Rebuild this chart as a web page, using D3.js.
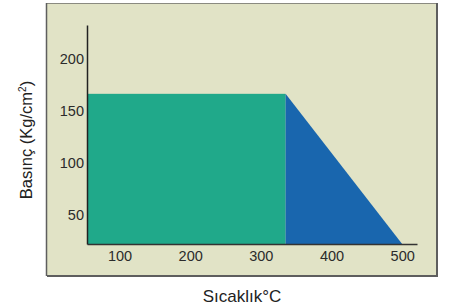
<!DOCTYPE html>
<html><head><meta charset="utf-8">
<script src="https://cdn.jsdelivr.net/npm/d3@7"></script>
<style>body{margin:0;background:#fff}svg{display:block}text{font-family:"Liberation Sans",Arial,sans-serif}</style>
</head><body>
<svg id="c" width="454" height="307"></svg>
<script>
// Data (temperature °C, pressure kg/cm²)
const xTicks = [100, 200, 300, 400, 500];
const yTicks = [50, 100, 150, 200];
const greenTemp = [54, 335];        // rectangle: start, end temperature
const greenPressure = [166, 166];
const blueTemp = [335, 335, 500];   // triangle vertices
const bluePressure = [166, 22, 22];
const xDomain = [54, 521];
const yDomain = [22, 232];

const svg = d3.select("#c");
const x = d3.scaleLinear().domain(xDomain).range([87, 417]);
const y = d3.scaleLinear().domain(yDomain).range([244, 25]);

// Panel
svg.append("rect").attr("x", 46.5).attr("y", 3.5).attr("width", 390).attr("height", 272)
  .attr("fill", "#e1e3c6").attr("stroke", "#8a8a80").attr("stroke-width", 1);
svg.append("path").attr("d", `M47,276 H437 V3`).attr("fill", "none").attr("stroke", "#5e5e5e").attr("stroke-width", 2);
svg.append("line").attr("x1", 46.5).attr("x2", 46.5).attr("y1", 3).attr("y2", 276).attr("stroke", "#5e5e5e").attr("stroke-width", 1.5);

// Green rectangle
const base = yDomain[0];
svg.append("rect")
  .attr("x", x(greenTemp[0])).attr("y", y(greenPressure[0]))
  .attr("width", x(greenTemp[1]) - x(greenTemp[0]))
  .attr("height", y(base) - y(greenPressure[0]))
  .attr("fill", "#20a98a");

// Blue triangle
const pts = blueTemp.map((t, i) => [x(t), y(bluePressure[i])]);
svg.append("path").attr("d", d3.line()(pts) + "Z").attr("fill", "#1966ae");

// Axes
const xAxis = svg.append("g").attr("transform", `translate(0,${y(base)})`)
  .call(d3.axisBottom(x).tickValues(xTicks).tickSize(0).tickPadding(7));
xAxis.select(".domain").attr("stroke", "#333").attr("stroke-width", 1.5);
xAxis.selectAll("text").attr("font-size", 14.5).attr("fill", "#2b2b2b");

const yAxis = svg.append("g").attr("transform", `translate(${x(xDomain[0])},0)`)
  .call(d3.axisLeft(y).tickValues(yTicks).tickSize(0).tickPadding(3));
yAxis.select(".domain").attr("stroke", "#222").attr("stroke-width", 1.5);
yAxis.selectAll("text").attr("font-size", 14.5).attr("fill", "#2b2b2b");

// Titles
svg.append("text").attr("x", 242).attr("y", 302).attr("text-anchor", "middle")
  .attr("font-size", 17).attr("fill", "#222").text("Sıcaklık°C");

const yt = svg.append("text").attr("transform", "translate(32,140) rotate(-90)")
  .attr("text-anchor", "middle").attr("font-size", 16.5).attr("fill", "#222");
yt.append("tspan").text("Basınç (Kg/cm");
yt.append("tspan").attr("font-size", 10).attr("dy", -6).text("2");
yt.append("tspan").attr("dy", 6).text(")");
</script>
</body></html>
